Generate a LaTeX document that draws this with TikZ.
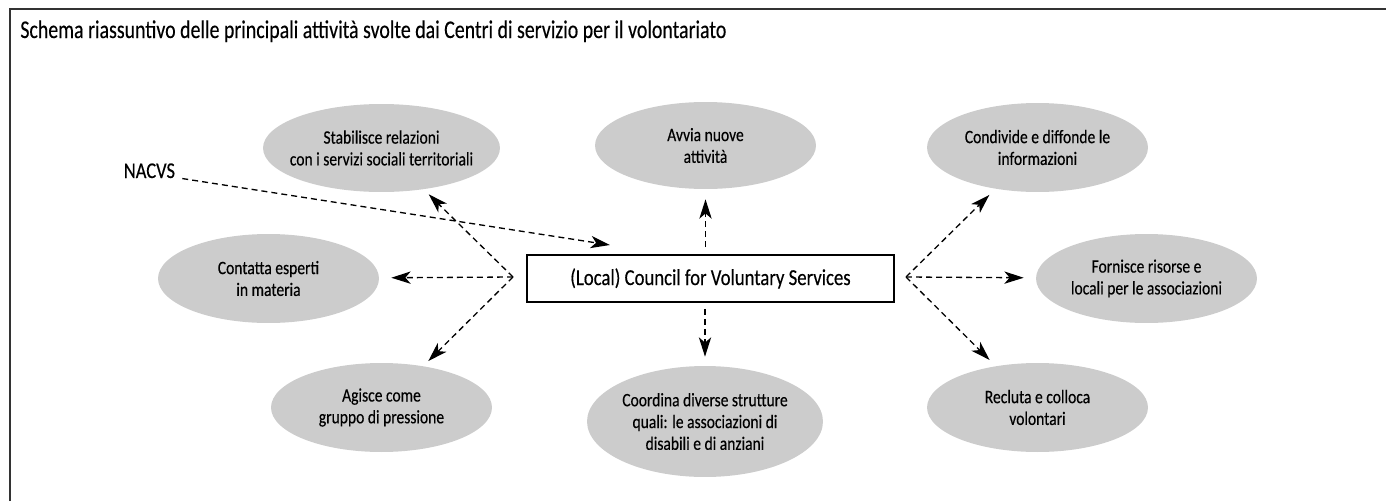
\documentclass[tikz,border=0pt]{standalone}
\usepackage{fontspec}
\setmainfont{Carlito}[FakeStretch=0.82,FakeBold=0.3]
\newfontfamily\titlefont{Carlito}[FakeStretch=0.78,FakeBold=0.3]
\usepackage{tikz}
\usetikzlibrary{arrows.meta,shapes,positioning,calc}
\definecolor{actgray}{RGB}{204,204,204}
\definecolor{framegray}{RGB}{51,51,51}

\begin{document}
\begin{tikzpicture}[
    x=0.02cm, y=-0.02cm,
    act/.style={ellipse, fill=actgray, minimum width=4.42cm, minimum height=1.78cm, inner xsep=-0.6cm, inner ysep=0pt, align=center, font=\fontsize{10.8}{12.4}\selectfont},
    council/.style={rectangle, draw=black, line width=1pt, fill=white, minimum width=7.34cm, minimum height=0.94cm, font=\fontsize{13}{15}\selectfont},
    link/.style={dash pattern=on 3.4pt off 2.3pt, line width=0.75pt, -{Stealth[length=11pt,width=7pt,inset=3pt]}}
]
    \useasboundingbox (0,0) rectangle (1386,501);
    \draw[framegray, line width=1.1pt] (10,501) -- (10,9) -- (1386,9);

    \node[anchor=base west, inner sep=0pt, font=\titlefont\fontsize{14.5}{17}\selectfont] (title) at (20,38) {Schema riassuntivo delle principali attività svolte dai Centri di servizio per il volontariato};

    \node[council] (cvs) at (710.5,278.5) {(Local) Council for Voluntary Services};
    \node[act, minimum width=4.74cm, minimum height=1.76cm] (stab) at (381.5,148) {Stabilisce relazioni\\con i servizi sociali territoriali};
    \node[act, minimum height=1.74cm] (avvia) at (705.5,145.5) {Avvia nuove\\attività};
    \node[act] (cond) at (1037.5,147.5) {Condivide e diffonde le\\informazioni};
    \node[act] (cont) at (268.5,278.5) {Contatta esperti\\in materia};
    \node[act] (forn) at (1146.5,278.5) {Fornisce risorse e\\locali per le associazioni};
    \node[act] (agis) at (381.5,407.5) {Agisce come\\gruppo di pressione};
    \node[act, minimum width=4.72cm, minimum height=2.22cm] (coord) at (705,421.5) {Coordina diverse strutture\\quali: le associazioni di\\disabili e di anziani};
    \node[act] (recl) at (1037.5,407.5) {Recluta e colloca\\volontari};

    \node[anchor=base west, inner sep=2pt, font=\fontsize{12.8}{15}\selectfont] (nacvs) at (120,178) {NACVS};

    % meeting points of the dashed arrows
    \coordinate (lfan) at (513,277);
    \coordinate (rfan) at (906,277);
    \coordinate (nacvsin) at (610,245);

    \draw[link, shorten <=2pt] (nacvs.base east) -- (nacvsin);
    \draw[link, shorten >=0.14cm] (lfan) -- (stab);
    \draw[link, shorten >=0.24cm] (lfan) -- (cont);
    \draw[link, shorten >=0.14cm] (lfan) -- (agis);
    \draw[link, shorten >=0.17cm] (rfan) -- (cond);
    \draw[link, shorten >=0.24cm] (rfan) -- (forn);
    \draw[link, shorten >=0.17cm] (rfan) -- (recl);
    \draw[link, shorten <=0.14cm, shorten >=0.2cm] (cvs.north -| avvia) -- (avvia);
    \draw[link, shorten <=0.12cm, shorten >=0.18cm] (cvs.south -| coord) -- (coord);
\end{tikzpicture}
\end{document}
